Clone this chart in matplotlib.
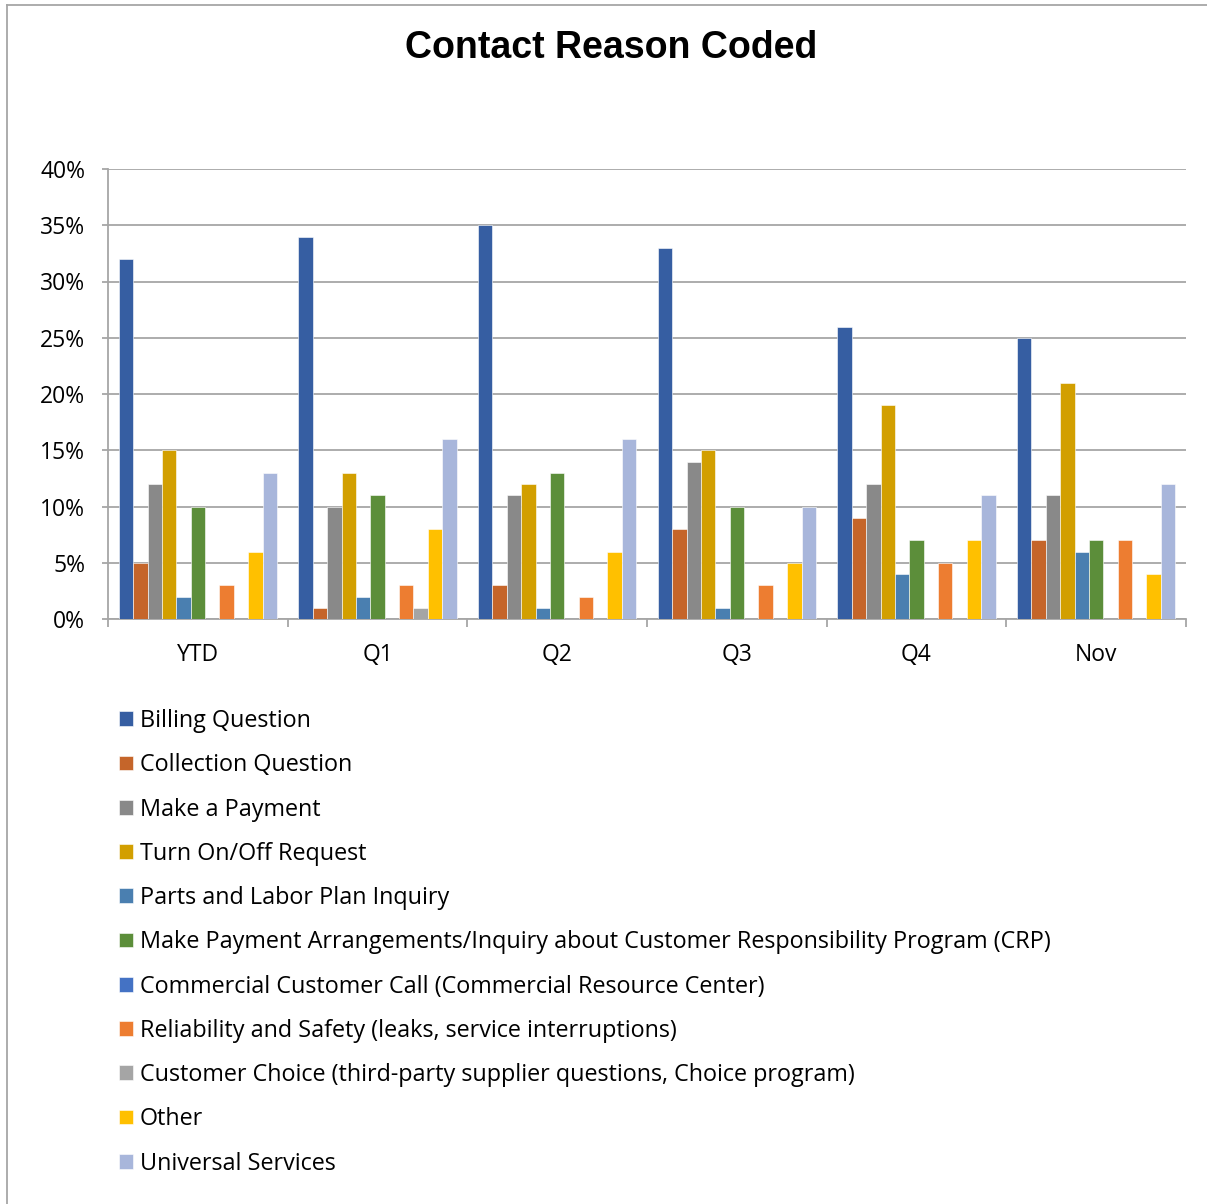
import numpy as np
import matplotlib
matplotlib.use("Agg")
import matplotlib.pyplot as plt
from matplotlib.lines import Line2D
from matplotlib.ticker import FixedLocator, PercentFormatter

groups = ["YTD", "Q1", "Q2", "Q3", "Q4", "Nov"]
series = [
    "Billing Question",
    "Collection Question",
    "Make a Payment",
    "Turn On/Off Request",
    "Parts and Labor Plan Inquiry",
    "Make Payment Arrangements/Inquiry about Customer Responsibility Program (CRP)",
    "Commercial Customer Call (Commercial Resource Center)",
    "Reliability and Safety (leaks, service interruptions)",
    "Customer Choice (third-party supplier questions, Choice program)",
    "Other",
    "Universal Services",
]
billing = [32, 34, 35, 33, 26, 25]
collection = [5, 1, 3, 8, 9, 7]
make_payment = [12, 10, 11, 14, 12, 11]
turn_on_off = [15, 13, 12, 15, 19, 21]
parts_labor = [2, 2, 1, 1, 4, 6]
crp = [10, 11, 13, 10, 7, 7]
commercial = [0, 0, 0, 0, 0, 0]
reliability = [3, 3, 2, 3, 5, 7]
customer_choice = [0, 1, 0, 0, 0, 0]
other = [6, 8, 6, 5, 7, 4]
universal = [13, 16, 16, 10, 11, 12]

colors = ["#365EA2", "#C5652A", "#898989", "#D29F00", "#4A7FB0", "#5C8E3A",
          "#4472C4", "#ED7D31", "#A5A5A5", "#FFC000", "#A8B6DB"]

values = [billing, collection, make_payment, turn_on_off, parts_labor, crp,
          commercial, reliability, customer_choice, other, universal]

fig = plt.figure(figsize=(12.07, 12.04), dpi=100)
ax = fig.add_axes([108 / 1207, 1 - 619 / 1204, (1186 - 108) / 1207, (619 - 169) / 1204])

x = np.arange(len(groups))
n = len(series)
w = 0.88 / n
handles = []
for i, (name, vals, c) in enumerate(zip(series, values, colors)):
    offs = (i - (n - 1) / 2) * w
    b = ax.bar(x + offs, vals, width=w, color=c, edgecolor="white", linewidth=0.4,
               label=name, zorder=3)
    handles.append(b)

ax.set_xlim(-0.5, len(groups) - 0.5)
ax.set_ylim(0, 40)
ax.yaxis.set_major_locator(FixedLocator(np.arange(0, 41, 5)))
ax.yaxis.set_major_formatter(PercentFormatter(decimals=0))
ax.grid(axis="y", color="#A6A6A6", linewidth=1.3, zorder=0)
ax.set_axisbelow(True)

ax.set_xticks(np.arange(-0.5, len(groups), 1.0))
ax.set_xticklabels([])
ax.set_xticks(x, minor=True)
ax.set_xticklabels(groups, minor=True, fontsize=16.5, family="Open Sans")
ax.tick_params(axis="x", which="major", length=6, color="#A6A6A6", width=1.3)
ax.tick_params(axis="x", which="minor", length=0, pad=17)
ax.tick_params(axis="y", length=4.5, color="#A6A6A6", width=1.3, labelsize=16.5, pad=12)
for lab in ax.get_yticklabels():
    lab.set_family("Open Sans")

for s in ["top", "right"]:
    ax.spines[s].set_visible(False)
for s in ["left", "bottom"]:
    ax.spines[s].set_color("#A6A6A6")
    ax.spines[s].set_linewidth(1.3)

fig.text(611 / 1207, 1 - 48 / 1204, "Contact Reason Coded", ha="center", va="center",
         fontsize=27, fontweight="bold", family="Liberation Sans")

fig.legend(handles=handles, labels=series, loc="upper left",
           bbox_to_anchor=(119 / 1207, 1 - 709 / 1204), frameon=False,
           prop={"family": "Open Sans", "size": 16.8}, handlelength=0.6,
           handleheight=0.6, handletextpad=0.3, labelspacing=0.868,
           borderaxespad=0, borderpad=0)

# outer frame
fig.add_artist(Line2D([7 / 1207, 7 / 1207], [0, 1 - 5 / 1204], transform=fig.transFigure,
                      color="#A6A6A6", linewidth=1.3))
fig.add_artist(Line2D([7 / 1207, 1], [1 - 5 / 1204, 1 - 5 / 1204], transform=fig.transFigure,
                      color="#A6A6A6", linewidth=1.3))

fig.savefig("out.png", dpi=100)
